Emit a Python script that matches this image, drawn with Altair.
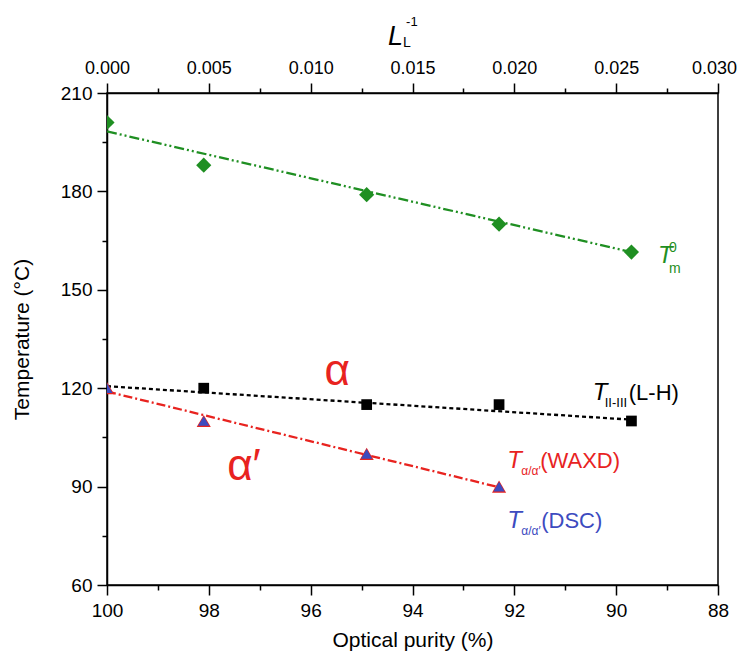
import altair as alt
import pandas as pd

# ---------------- data ----------------
purity = [100, 98.1, 94.9, 92.3, 89.7]
tm0 = [201, 188, 179, 170, 161.5]
tm0_fit_p = [100, 89.7]
tm0_fit_T = [198.3, 161.5]

t23_p = [98.1, 94.9, 92.3, 89.7]
t23 = [120, 115, 115, 110]
t23_fit_p = [100, 89.7]
t23_fit_T = [120.6, 110.4]

ta_p = [100, 98.1, 94.9, 92.3]
ta_waxd = [120, 110, 100, 90]
ta_dsc = [120, 110, 100, 90]
ta_fit_p = [100, 92.3]
ta_fit_T = [119.0, 89.8]

x_major = [100, 98, 96, 94, 92, 90, 88]
x_minor = [99, 97, 95, 93, 91, 89]
y_major = [60, 90, 120, 150, 180, 210]
y_minor = [75, 105, 135, 165, 195]
top_major = [0.0, 0.005, 0.010, 0.015, 0.020, 0.025, 0.030]
top_minor = [0.0025, 0.0075, 0.0125, 0.0175, 0.0225, 0.0275]

GREEN = "#1f8f22"
RED = "#e8231f"
BLUE = "#3d4bbf"
FONT = "Liberation Sans"

def df(p, T, text=None):
    d = {"p": p, "T": T}
    if text is not None:
        d["text"] = text
    return pd.DataFrame(d)

xscale = alt.Scale(domain=[88, 100], reverse=True, nice=False, zero=False)
yscale = alt.Scale(domain=[60, 210], nice=False, zero=False)

xaxis = alt.Axis(
    values=sorted(x_major + x_minor), title="Optical purity (%)",
    labelExpr="datum.value % 2 === 0 ? datum.label : ''",
    tickSize={"condition": {"test": "datum.value % 2 === 0", "value": 10}, "value": 5},
    labelFlush=False, labelOverlap=False, grid=False, labelPadding=6,
    titlePadding=9, orient="bottom",
)
yaxis = alt.Axis(
    values=sorted(y_major + y_minor), title="Temperature (°C)",
    labelExpr="datum.value % 30 === 0 ? datum.label : ''",
    tickSize={"condition": {"test": "datum.value % 30 === 0", "value": 10}, "value": 5},
    labelFlush=False, labelOverlap=False, grid=False, labelPadding=5,
    titlePadding=28,
)

X = alt.X("p:Q", scale=xscale, axis=xaxis)
Y = alt.Y("T:Q", scale=yscale, axis=yaxis)

def line(p, T, color, dash):
    return alt.Chart(df(p, T)).mark_line(color=color, strokeDash=dash, strokeWidth=2.3).encode(x=X, y=Y)

def pts(p, T, shape, color, size):
    return alt.Chart(df(p, T)).mark_point(shape=shape, filled=True, color=color, size=size,
                                          opacity=1, clip=True).encode(x=X, y=Y)

def txt(p, T, s, color, size, dx=0, dy=0, italic=False, align="left"):
    kw = dict(align=align, baseline="alphabetic", font=FONT, fontSize=size, color=color, dx=dx, dy=dy)
    if italic:
        kw["fontStyle"] = "italic"
    return alt.Chart(df([p], [T], [s])).mark_text(**kw).encode(x=X, y=Y, text="text:N")

layers = [
    line(tm0_fit_p, tm0_fit_T, GREEN, [10, 3, 2, 3, 2, 3]),
    line(t23_fit_p, t23_fit_T, "black", [4, 3]),
    line(ta_fit_p, ta_fit_T, RED, [9, 3, 2, 3]),
    pts(purity, tm0, "diamond", GREEN, 230),
    pts(t23_p, t23, "square", "black", 115),
    pts(ta_p, ta_waxd, "triangle-up", RED, 200),
    pts(ta_p, ta_dsc, "triangle-up", BLUE, 125),
    # annotations
    txt(89.18, 158.2, "T", GREEN, 24, italic=True),
    txt(89.18, 158.2, "0", GREEN, 14, dx=11, dy=-11),
    txt(89.18, 158.2, "m", GREEN, 14, dx=11, dy=10),
    txt(90.46, 116.4, "T", "black", 24, italic=True),
    txt(90.46, 116.4, "II-III", "black", 13, dx=12, dy=7),
    txt(90.46, 116.4, "(L-H)", "black", 22, dx=36),
    txt(92.14, 95.7, "T", RED, 24, italic=True),
    txt(92.14, 95.7, "α/α′", RED, 12, dx=14, dy=7),
    txt(92.14, 95.7, "(WAXD)", RED, 22, dx=33),
    txt(92.14, 77.4, "T", BLUE, 24, italic=True),
    txt(92.14, 77.4, "α/α′", BLUE, 12, dx=14, dy=7),
    txt(92.14, 77.4, "(DSC)", BLUE, 22, dx=34),
    txt(95.48, 121.0, "α", RED, 44, align="center"),
    txt(97.64, 92.0, "α′", RED, 44),
    # top axis title L_L^-1
    txt(94.48, 224.6, "L", "black", 27, italic=True),
    txt(94.48, 224.6, "L", "black", 14, dx=15, dy=2),
    txt(94.48, 224.6, "-1", "black", 13, dx=18, dy=-19),
]

main = alt.layer(*layers)

top = alt.Chart(pd.DataFrame({"L": top_major})).mark_point(opacity=0).encode(
    x=alt.X("L:Q", scale=alt.Scale(domain=[0, 0.03], nice=False, zero=False),
            axis=alt.Axis(
                orient="top", values=sorted(top_major + top_minor), title=None, format=".3f",
                labelExpr="round(datum.value * 10000) % 50 === 0 ? datum.label : ''",
                tickSize={"condition": {"test": "round(datum.value * 10000) % 50 === 0", "value": 10}, "value": 5},
                labelOffset={"condition": {"test": "datum.value > 0.029", "value": -4}, "value": 0},
                labelFlush=False, labelOverlap=False, grid=False, labelPadding=6, labelFontSize=18,
            ))
)

chart = alt.layer(main, top).resolve_scale(x="independent").properties(
    width=611, height=492,
    autosize=alt.AutoSizeParams(type="none"),
    padding={"left": 99, "top": 85, "right": 20, "bottom": 70},
).configure_view(stroke="black", strokeWidth=1.5).configure_axis(
    domainColor="black", domainWidth=1.5, tickColor="black", tickWidth=1.5,
    labelFont=FONT, labelFontSize=19, labelColor="black",
    titleFont=FONT, titleFontSize=21, titleFontWeight="normal", titleColor="black",
)

chart.save("out.html", embed_options={"renderer": "svg", "actions": False})
